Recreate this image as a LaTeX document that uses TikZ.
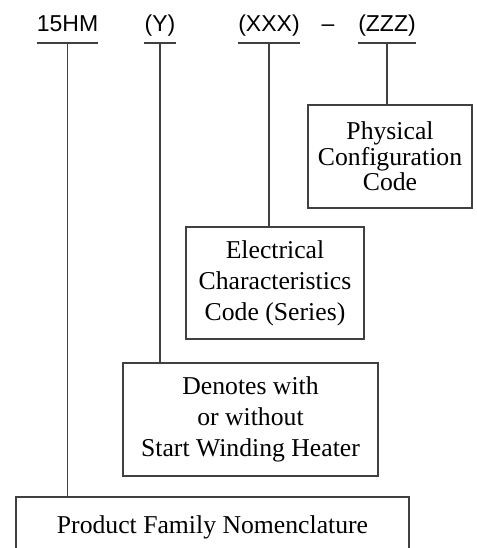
\documentclass[tikz,border=0pt]{standalone}
\usepackage{fontspec}
\setmainfont{Liberation Serif}
\newfontfamily\hdrfont{Liberation Sans}
\begin{document}
\begin{tikzpicture}[x=1pt,y=-1pt,
  ln/.style={draw=black!75, line width=1.6pt},
  hdr/.style={font=\hdrfont\fontsize{23}{27}\selectfont, inner sep=0pt, anchor=base},
  cbox/.style={draw=black!75, line width=1.6pt, align=center, inner sep=0pt,
    font=\fontsize{25.7}{31}\selectfont},
]
\useasboundingbox (0,0) rectangle (476,548);
% header codes
\node[hdr] (h1) at (67.5,32) {15HM};
\node[hdr] (h2) at (160,32) {(Y)};
\node[hdr] (h3) at (269,32) {(XXX)};
\node[hdr] (hd) at (328,32) {–};
\node[hdr] (h4) at (387,32) {(ZZZ)};
% boxes
\node[cbox, minimum width=164pt, minimum height=103pt,
  font=\fontsize{25.7}{25.5}\selectfont] (b1) at (390,156.5)
  {Physical\\Configuration\\Code};
\node[cbox, minimum width=178pt, minimum height=112pt] (b2) at (275,283)
  {Electrical\\Characteristics\\Code (Series)};
\node[cbox, minimum width=255pt, minimum height=113pt] (b3) at (250.5,419.5)
  {Denotes with\\or without\\Start Winding Heater};
\node[cbox, anchor=north, minimum width=393pt, text height=17pt, text depth=5pt,
  inner ysep=20pt] (b4) at (212.5,496) {Product Family Nomenclature};
% underlines and connectors
\foreach \h/\b in {h1/b4, h2/b3, h3/b2, h4/b1}{
  \draw[ln] ([yshift=-11pt]\h.base west) -- ([yshift=-11pt]\h.base east);
  \draw[ln] ([yshift=-11pt]\h.base) -- (\h.base |- \b.north);
}
\end{tikzpicture}
\end{document}
